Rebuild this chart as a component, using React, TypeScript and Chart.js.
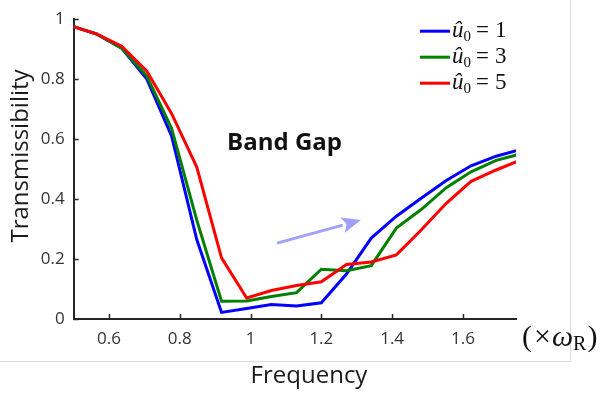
import { useEffect, useRef } from 'react';
import { Chart, registerables } from 'chart.js';

Chart.register(...registerables);

// ---- data ----
const frequency = [0.495, 0.566, 0.636, 0.707, 0.777, 0.848, 0.918, 0.989, 1.059, 1.13, 1.2, 1.271, 1.341, 1.412, 1.482, 1.553, 1.623, 1.694, 1.764];
const transU1 = [0.977, 0.95, 0.903, 0.8, 0.61, 0.265, 0.022, 0.035, 0.048, 0.043, 0.054, 0.15, 0.27, 0.343, 0.403, 0.462, 0.511, 0.543, 0.566];
const transU3 = [0.977, 0.95, 0.903, 0.81, 0.635, 0.33, 0.059, 0.06, 0.075, 0.088, 0.166, 0.161, 0.178, 0.303, 0.365, 0.438, 0.491, 0.529, 0.551];
const transU5 = [0.977, 0.95, 0.91, 0.827, 0.685, 0.507, 0.204, 0.07, 0.095, 0.112, 0.124, 0.182, 0.19, 0.214, 0.297, 0.386, 0.459, 0.497, 0.531];
const amplitudes = ['1', '3', '5'];
const seriesColors = ['#0000ff', '#008000', '#ff0000'];
const xTickValues = [0.6, 0.8, 1, 1.2, 1.4, 1.6];
const yTickValues = [0, 0.2, 0.4, 0.6, 0.8, 1];
const xRange = [0.5, 1.75];
const yRange = [0, 1];
const arrowTail = [1.075, 0.253];
const arrowTip = [1.312, 0.33];
const bandGapAt = [1.096, 0.587];

const AXIS = '#262626';
const SANS = '"Open Sans", "Noto Sans", sans-serif';
const SERIF = '"Liberation Serif", "DejaVu Serif", serif';

const decor = {
  id: 'decor',
  beforeDraw(chart: any) {
    const ctx = chart.ctx;
    ctx.save();
    ctx.fillStyle = '#ffffff';
    ctx.fillRect(0, 0, chart.width, chart.height);
    // light frame of the original figure
    ctx.strokeStyle = '#dcdcdc';
    ctx.lineWidth = 1;
    ctx.beginPath();
    ctx.moveTo(0, 361.5);
    ctx.lineTo(570.5, 361.5);
    ctx.moveTo(570.5, 0);
    ctx.lineTo(570.5, 361.5);
    ctx.stroke();
    ctx.restore();
  },
  afterDraw(chart: any) {
    const ctx = chart.ctx;
    const { left, right, top, bottom } = chart.chartArea;
    const xs = chart.scales.x;
    const ys = chart.scales.y;
    ctx.save();
    // inward ticks
    ctx.strokeStyle = AXIS;
    ctx.lineWidth = 1.5;
    ctx.beginPath();
    xTickValues.forEach((v) => {
      const px = Math.round(xs.getPixelForValue(v)) + 0.5;
      ctx.moveTo(px, bottom);
      ctx.lineTo(px, bottom - 5);
    });
    yTickValues.forEach((v) => {
      const py = Math.round(ys.getPixelForValue(v)) + 0.5;
      ctx.moveTo(left, py);
      ctx.lineTo(left + 5, py);
    });
    ctx.stroke();

    // arrow
    const tx = xs.getPixelForValue(arrowTail[0]);
    const ty = ys.getPixelForValue(arrowTail[1]);
    const hx = xs.getPixelForValue(arrowTip[0]);
    const hy = ys.getPixelForValue(arrowTip[1]);
    const ang = Math.atan2(hy - ty, hx - tx);
    const headLen = 19;
    const headHalf = 8;
    const bx = hx - headLen * Math.cos(ang);
    const by = hy - headLen * Math.sin(ang);
    ctx.strokeStyle = '#a0a0ff';
    ctx.fillStyle = '#a0a0ff';
    ctx.lineWidth = 3;
    ctx.beginPath();
    ctx.moveTo(tx, ty);
    ctx.lineTo(bx, by);
    ctx.stroke();
    ctx.beginPath();
    ctx.moveTo(hx, hy);
    ctx.lineTo(bx + headHalf * Math.sin(ang), by - headHalf * Math.cos(ang));
    ctx.lineTo(bx + 4 * Math.cos(ang), by + 4 * Math.sin(ang));
    ctx.lineTo(bx - headHalf * Math.sin(ang), by + headHalf * Math.cos(ang));
    ctx.closePath();
    ctx.fill();

    // Band Gap label
    ctx.fillStyle = '#111';
    ctx.font = `bold 24px ${SANS}`;
    ctx.textAlign = 'center';
    ctx.textBaseline = 'middle';
    ctx.fillText('Band Gap', xs.getPixelForValue(bandGapAt[0]), ys.getPixelForValue(bandGapAt[1]));

    // axis titles
    ctx.fillStyle = '#1a1a1a';
    ctx.font = `24px ${SANS}`;
    ctx.fillText('Frequency', 309, 376);
    ctx.save();
    ctx.translate(21, 156);
    ctx.rotate(-Math.PI / 2);
    ctx.fillText('Transmissibility', 0, 0);
    ctx.restore();

    // unit label (×ω_R)
    ctx.textAlign = 'left';
    ctx.fillStyle = '#111';
    let ux = right + 6;
    const uy = 338;
    ctx.font = `30px ${SERIF}`;
    ctx.fillText('(', ux, uy);
    ux += ctx.measureText('(').width + 2;
    ctx.fillText('\u00d7', ux, uy);
    ux += ctx.measureText('\u00d7').width + 1;
    ctx.font = `italic 30px ${SERIF}`;
    ctx.fillText('\u03c9', ux, uy);
    ux += ctx.measureText('\u03c9').width;
    ctx.font = `20px ${SERIF}`;
    ctx.fillText('R', ux, uy + 7);
    ux += ctx.measureText('R').width + 1;
    ctx.font = `30px ${SERIF}`;
    ctx.fillText(')', ux, uy);

    // legend
    chart.data.datasets.forEach((ds: any, i: number) => {
      const ly = top + 12 + i * 26;
      const lx = right - 96;
      ctx.strokeStyle = ds.borderColor;
      ctx.lineWidth = 3;
      ctx.beginPath();
      ctx.moveTo(lx, ly);
      ctx.lineTo(lx + 30, ly);
      ctx.stroke();
      ctx.fillStyle = '#111';
      let tx2 = lx + 32;
      ctx.font = `italic 23px ${SERIF}`;
      ctx.fillText('\u00fb', tx2, ly);
      tx2 += ctx.measureText('\u00fb').width;
      ctx.font = `15px ${SERIF}`;
      ctx.fillText('0', tx2, ly + 6);
      tx2 += ctx.measureText('0').width + 5;
      ctx.font = `23px ${SERIF}`;
      ctx.fillText('=', tx2, ly);
      tx2 += ctx.measureText('=').width + 6;
      ctx.fillText(amplitudes[i], tx2, ly);
    });
    ctx.restore();
  },
};

export default function App() {
  const ref = useRef<HTMLCanvasElement | null>(null);
  useEffect(() => {
    const canvas = ref.current;
    if (!canvas) return;
    const series = [transU1, transU3, transU5];
    const chart = new Chart(canvas, {
      type: 'line',
      data: {
        datasets: series.map((vals, i) => ({
          label: `u0 = ${amplitudes[i]}`,
          data: frequency.map((f, k) => ({ x: f, y: vals[k] })),
          borderColor: seriesColors[i],
          backgroundColor: seriesColors[i],
          borderWidth: 3,
          pointRadius: 0,
          tension: 0,
          fill: false,
          clip: 0,
          order: 2 - i,
        })),
      },
      options: {
        responsive: false,
        animation: false,
        devicePixelRatio: 1,
        layout: { padding: { top: 9, right: 92, left: 0, bottom: 0 } },
        plugins: { legend: { display: false }, tooltip: { enabled: false }, title: { display: false } },
        scales: {
          x: {
            type: 'linear',
            min: xRange[0],
            max: xRange[1],
            afterFit: (s: any) => { s.height = 75; },
            afterBuildTicks: (s: any) => { s.ticks = xTickValues.map((v) => ({ value: v })); },
            grid: { display: false, drawTicks: false },
            border: { display: true, color: AXIS, width: 2 },
            ticks: {
              padding: 10,
              color: '#333',
              font: { family: SANS, size: 17 },
              callback: (v: any) => String(Number(v)),
            },
          },
          y: {
            type: 'linear',
            min: yRange[0],
            max: yRange[1],
            afterFit: (s: any) => { s.width = 73.6; },
            afterBuildTicks: (s: any) => { s.ticks = yTickValues.map((v) => ({ value: v })); },
            grid: { display: false, drawTicks: false },
            border: { display: true, color: AXIS, width: 2 },
            ticks: {
              padding: 9,
              color: '#333',
              font: { family: SANS, size: 17 },
              callback: (v: any) => String(Number(v)),
            },
          },
        },
      },
      plugins: [decor],
    } as any);
    return () => chart.destroy();
  }, []);
  return (
    <div style={{ position: 'fixed', left: 0, top: 0, width: 608, height: 394, background: '#fff' }}>
      <canvas ref={ref} width={608} height={394} style={{ width: 608, height: 394, display: 'block' }} />
    </div>
  );
}
